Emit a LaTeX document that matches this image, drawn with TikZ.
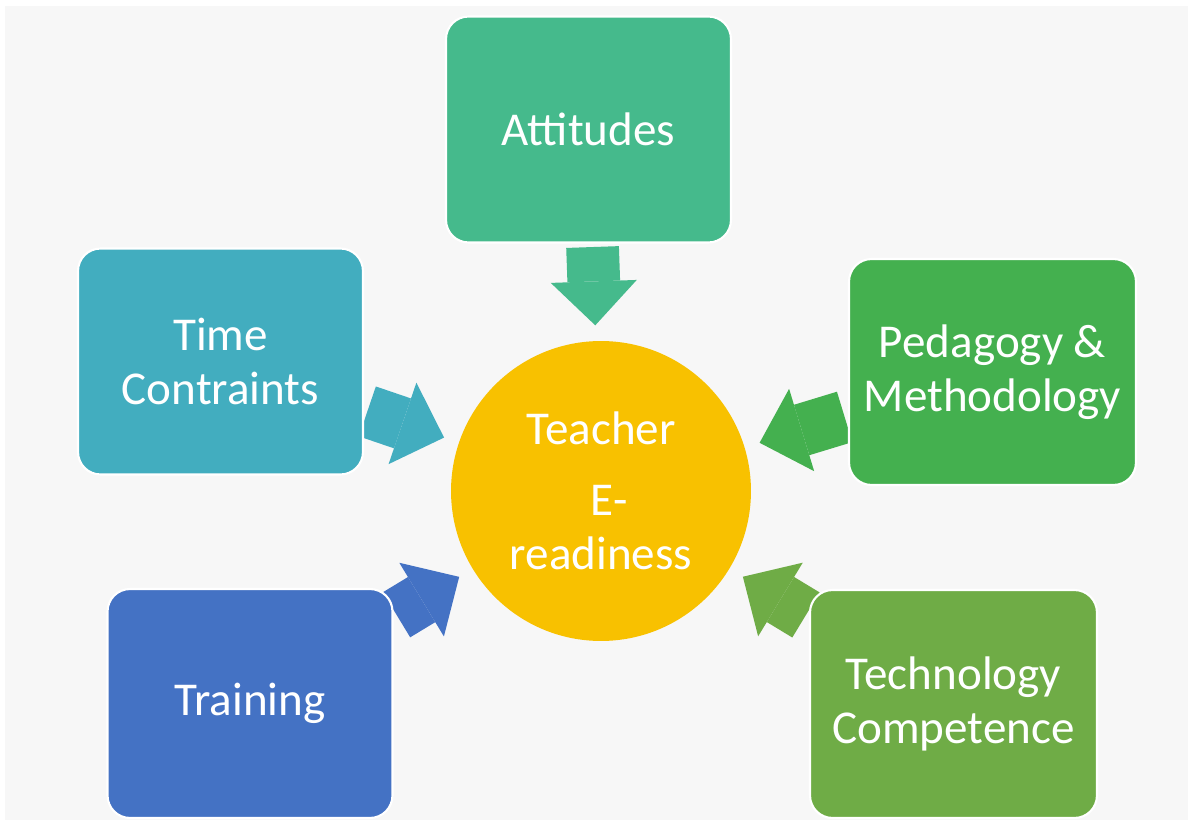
\documentclass[tikz,border=0pt]{standalone}
\usepackage{fontspec}
\setmainfont{Carlito}
\usepackage{xcolor}
\usetikzlibrary{calc, shapes, arrows.meta}
\definecolor{bggray}{HTML}{F7F7F7}
\definecolor{attgreen}{HTML}{45BA8C}
\definecolor{timeteal}{HTML}{42ADBF}
\definecolor{pedgreen}{HTML}{44B04F}
\definecolor{techgreen}{HTML}{6FAC46}
\definecolor{trainblue}{HTML}{4472C4}
\definecolor{circgold}{HTML}{F8C100}
\pgfdeclarelayer{background}
\pgfdeclarelayer{links}
\pgfsetlayers{background,links,main}

\begin{document}
\begin{tikzpicture}[x=0.02cm, y=-0.02cm]
				\newcommand{\mylabelfont}{\fontsize{26.8}{30.6}\selectfont}
				\tikzset{
					factor/.style={rectangle, rounded corners=0.45cm, draw=white, line width=1.2pt, minimum width=5.7cm, minimum height=4.52cm, align=center, text=white, inner sep=0pt, font=\mylabelfont},
					pusharrow/.style={line width=30pt, shorten <=2pt, shorten >=9pt, -{Triangle[width=49pt, length=25pt, line width=0pt]}}
				}
				%Frame of the picture
				\useasboundingbox (0,0) rectangle (1188,820);
				\begin{pgfonlayer}{background}
				\fill[bggray] (5,6) rectangle (1188,820);
				\end{pgfonlayer}
				%Centre circle
				\coordinate (centerCirc) at (601,491);
				\node [circle, fill=circgold, minimum size=6cm, inner sep=0pt, outer sep=0pt, align=center, text=white, font=\mylabelfont] (circ) at (centerCirc) {Teacher\\[10pt]\hspace{0.35em}E-\\readiness};
				%Boxes round the circle
				\coordinate (centerAtt) at (588.5,129.5);
				\coordinate (centerTime) at (220.5,361.5);
				\coordinate (centerPed) at (992.5,372);
				\coordinate (centerTrain) at (250,703.5);
				\coordinate (centerTech) at (953.5,704);
				\node [factor, fill=attgreen] (att) at (centerAtt) {Attitudes};
				\node [factor, fill=timeteal] (time) at (centerTime) {Time\\Contraints};
				\node [factor, fill=pedgreen, minimum width=5.74cm] (ped) at (centerPed) {Pedagogy \&\\Methodology};
				\node [factor, fill=trainblue, minimum height=4.58cm] (train) at (centerTrain) {Training};
				\node [factor, fill=techgreen, minimum width=5.74cm, minimum height=4.56cm] (tech) at (centerTech) {Technology\\Competence};
				%Arrows pointing into the circle
				\begin{pgfonlayer}{links}
				\draw [pusharrow, attgreen] (att) -- (circ);
				\draw [pusharrow, timeteal] (time) -- (circ);
				\draw [pusharrow, pedgreen] (ped) -- (circ);
				\draw [pusharrow, trainblue] (train) -- (circ);
				\draw [pusharrow, techgreen] (tech) -- (circ);
				\end{pgfonlayer}
\end{tikzpicture}
\end{document}
